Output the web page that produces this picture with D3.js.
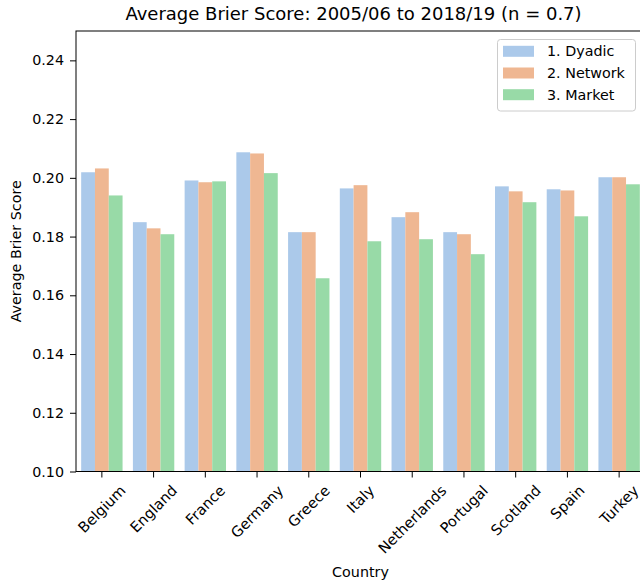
<!DOCTYPE html>
<html>
<head>
<meta charset="utf-8">
<script src="https://cdn.jsdelivr.net/npm/d3@7"></script>
<style>
  body { margin: 0; background: #fff; }
  svg { display: block; font-family: "DejaVu Sans", sans-serif; }
</style>
</head>
<body>
<svg id="chart" width="640" height="585"></svg>
<script>
const countries = ["Belgium","England","France","Germany","Greece","Italy","Netherlands","Portugal","Scotland","Spain","Turkey"];
const seriesNames = ["1. Dyadic","2. Network","3. Market"];
const dyadic  = [0.2019,0.1849,0.1991,0.2087,0.1815,0.1964,0.1866,0.1815,0.1971,0.1961,0.2002];
const network = [0.2032,0.1828,0.1985,0.2083,0.1815,0.1975,0.1883,0.1808,0.1954,0.1957,0.2002];
const market  = [0.1940,0.1808,0.1988,0.2016,0.1658,0.1784,0.1791,0.1740,0.1917,0.1869,0.1978];
const yTicks = [0.10,0.12,0.14,0.16,0.18,0.20,0.22,0.24];
const colors = ["#abc9ea","#efb792","#98daa7"];

const seriesValues = [dyadic, network, market];
const svg = d3.select("#chart");
const pLeft = 76, pRight = 645, pTop = 31, pBottom = 471.5;

const x = d3.scaleBand().domain(countries).range([pLeft, pRight]).paddingInner(0).paddingOuter(0);
const bw = x.bandwidth() * 0.8;
const xs = d3.scaleBand().domain(seriesNames).range([0, bw]);
const y = d3.scaleLinear().domain([0.10, 0.25]).range([pBottom, pTop]);

const data = [];
countries.forEach((c, i) => seriesNames.forEach((s, j) => data.push({c, s, j, v: seriesValues[j][i]})));

svg.append("g").selectAll("rect").data(data).join("rect")
  .attr("x", d => x(d.c) + x.bandwidth()*0.1 + xs(d.s))
  .attr("width", xs.bandwidth())
  .attr("y", d => y(d.v))
  .attr("height", d => y(0.10) - y(d.v))
  .attr("fill", d => colors[d.j]);

// frame
svg.append("rect").attr("x", pLeft).attr("y", pTop).attr("width", pRight-pLeft).attr("height", pBottom-pTop)
  .attr("fill","none").attr("stroke","#000").attr("stroke-width",1);

// y axis
const yAxis = svg.append("g").attr("transform", `translate(${pLeft},0)`)
  .call(d3.axisLeft(y).tickValues(yTicks).tickFormat(d3.format(".2f")).tickSize(6).tickPadding(6));
yAxis.select(".domain").remove();
yAxis.selectAll("text").attr("font-size", 14.3).attr("fill","#000").attr("font-family","DejaVu Sans");
yAxis.selectAll("line").attr("stroke","#000");

// x axis
const xAxis = svg.append("g").attr("transform", `translate(0,${pBottom})`)
  .call(d3.axisBottom(x).tickSize(6).tickPadding(3));
xAxis.select(".domain").remove();
xAxis.selectAll("line").attr("stroke","#000");
const fs = 14.6;
xAxis.selectAll("text")
  .attr("font-size", fs).attr("fill","#000").attr("font-family","DejaVu Sans")
  .attr("text-anchor","middle").attr("dy","0.35em").attr("x", 0)
  .each(function() {
    const L = this.getComputedTextLength();
    const half = (L + fs * 0.95) * Math.SQRT1_2 / 2;
    const cy = 11.5 + half;
    d3.select(this).attr("y", 0).attr("transform", `translate(0,${cy}) rotate(-45)`);
  });

// titles
svg.append("text").attr("x", 353.5).attr("y", 20).attr("text-anchor","middle")
  .attr("font-size", 18).text("Average Brier Score: 2005/06 to 2018/19 (n = 0.7)");
svg.append("text").attr("transform", `translate(21,${(pTop+pBottom)/2}) rotate(-90)`)
  .attr("text-anchor","middle").attr("font-size", 14.3).text("Average Brier Score");
svg.append("text").attr("x", (pLeft+pRight)/2).attr("y", 577).attr("text-anchor","middle")
  .attr("font-size", 14.3).text("Country");

// legend
const lg = svg.append("g");
lg.append("rect").attr("x", 497.5).attr("y", 39.5).attr("width", 138).attr("height", 71.5)
  .attr("rx", 3).attr("fill", "#fff").attr("fill-opacity", 0.8).attr("stroke", "#ccc");
seriesNames.forEach((s, j) => {
  const cy = 51.3 + j * 21.7;
  lg.append("rect").attr("x", 503).attr("y", cy - 5.5).attr("width", 31).attr("height", 11).attr("fill", colors[j]);
  lg.append("text").attr("x", 547).attr("y", cy).attr("dy", "0.35em").attr("font-size", 14.3).text(s);
});
</script>
</body>
</html>
